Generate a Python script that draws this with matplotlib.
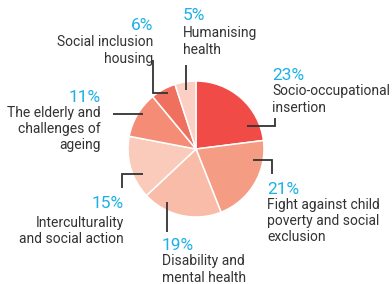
import matplotlib.pyplot as plt

# share of the budget by programme line
labels = ['Socio-occupational\ninsertion',
          'Fight against child\npoverty and social\nexclusion',
          'Disability and\nmental health',
          'Interculturality\nand social action',
          'The elderly and\nchallenges of\nageing',
          'Social inclusion\nhousing',
          'Humanising\nhealth']
values = [23, 21, 19, 15, 11, 6, 5]
colors = ['#F04B47', '#F59C85', '#F8BCA8', '#FACBBA', '#F48C76', '#F0705F', '#FBCFC3']

plt.rcParams['font.family'] = ['Roboto', 'DejaVu Sans']
text_col = '#333333'
pct_col = '#1CB0E6'

fig = plt.figure(figsize=(3.92, 2.84), dpi=100)
ax = fig.add_axes([0, 0, 1, 1])

# pixel-like coordinates, y axis downwards
cx, cy, r = 196, 149, 68
ax.pie(values, colors=colors, startangle=-90, counterclock=True,
       center=(cx, cy), radius=r,
       wedgeprops=dict(edgecolor='white', linewidth=1.1))
ax.set_xlim(0, 392)
ax.set_ylim(284, 0)
ax.axis('off')

# leader lines (layout only) and label placement
leaders = [
    [(247, 126), (275, 126), (275, 118)],
    [(253, 160), (272, 160), (272, 174)],
    [(167, 202), (167, 232)],
    [(143, 174), (122, 174), (122, 188)],
    [(143, 114), (113, 114)],
    [(168, 93), (153, 93), (153, 60)],
    [(186, 90), (186, 65)],
]
# (x, y of percent, y of first text line, alignment)
places = [
    (272, 75, 92, 'left'),
    (267, 189, 205, 'left'),
    (162, 245, 262, 'left'),
    (124, 203, 223, 'right'),
    (101, 97, 113, 'right'),
    (153, 25, 43, 'right'),
    (183, 16, 34, 'left'),
]

for v, lab, pts, (x, yp, yt, ha) in zip(values, labels, leaders, places):
    xs, ys = zip(*pts)
    ax.plot(xs, ys, color=text_col, lw=1.3, solid_capstyle='butt',
            solid_joinstyle='miter')
    ax.text(x, yp, f'{v}%', color=pct_col, fontsize=12.5, ha=ha, va='center')
    ax.text(x, yt - 7.5, lab, color=text_col, fontsize=10, ha=ha, va='top',
            linespacing=1.2, multialignment=ha)

fig.savefig('out.png', dpi=100)
